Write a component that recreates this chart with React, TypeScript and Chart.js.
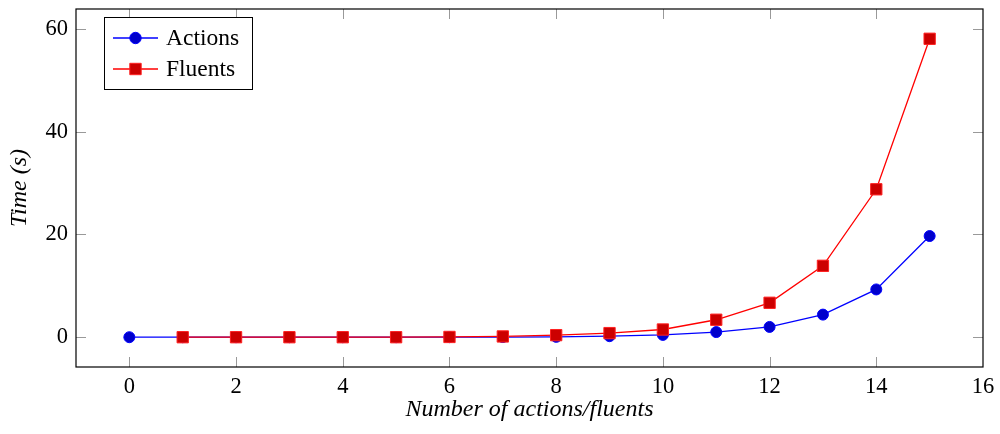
import React, { useEffect, useRef } from "react";
import { Chart, registerables } from "chart.js";

Chart.register(...registerables);

const actionsX = [0, 1, 2, 3, 4, 5, 6, 7, 8, 9, 10, 11, 12, 13, 14, 15];
const actionsY = [0, 0, 0, 0, 0, 0, 0.01, 0.03, 0.07, 0.2, 0.45, 1.0, 2.0, 4.4, 9.3, 19.7];
const fluentsX = [1, 2, 3, 4, 5, 6, 7, 8, 9, 10, 11, 12, 13, 14, 15];
const fluentsY = [0, 0, 0, 0, 0, 0.05, 0.15, 0.4, 0.8, 1.5, 3.4, 6.7, 13.9, 28.8, 58.1];
const xTicks = [0, 2, 4, 6, 8, 10, 12, 14, 16];
const yTicks = [0, 20, 40, 60];
const seriesLabels = ["Actions", "Fluents"];
const xTitle = "Number of actions/fluents";
const yTitle = "Time (s)";

const FONT = "'Liberation Serif', 'DejaVu Serif', serif";

const framePlugin = {
  id: "frame",
  afterDatasetsDraw(chart: any) {
    const { ctx, chartArea } = chart;
    const { left, right, top, bottom } = chartArea;
    const xs = chart.scales.x;
    const ys = chart.scales.y;
    ctx.save();
    ctx.strokeStyle = "#999999";
    ctx.lineWidth = 1;
    const tl = 10;
    ctx.beginPath();
    xs.ticks.forEach((t: any) => {
      const px = Math.round(xs.getPixelForValue(t.value)) + 0.5;
      if (px <= left + 1 || px >= right - 1) return;
      ctx.moveTo(px, bottom);
      ctx.lineTo(px, bottom - tl);
      ctx.moveTo(px, top);
      ctx.lineTo(px, top + tl);
    });
    ys.ticks.forEach((t: any) => {
      const py = Math.round(ys.getPixelForValue(t.value)) + 0.5;
      ctx.moveTo(left, py);
      ctx.lineTo(left + tl, py);
      ctx.moveTo(right, py);
      ctx.lineTo(right - tl, py);
    });
    ctx.stroke();
    ctx.strokeStyle = "#000000";
    ctx.lineWidth = 1.2;
    ctx.strokeRect(left, top, right - left, bottom - top);

    const bx = 104.5, by = 17.5, bw = 148, bh = 72;
    ctx.fillStyle = "#ffffff";
    ctx.fillRect(bx, by, bw, bh);
    ctx.strokeStyle = "#000000";
    ctx.lineWidth = 1;
    ctx.strokeRect(bx, by, bw, bh);
    const rows = [38, 69];
    chart.data.datasets.forEach((ds: any) => {
      const y = rows[ds.legendIndex];
      ctx.strokeStyle = ds.borderColor;
      ctx.lineWidth = 1.3;
      ctx.beginPath();
      ctx.moveTo(113, y);
      ctx.lineTo(158, y);
      ctx.stroke();
      ctx.fillStyle = ds.pointBackgroundColor;
      ctx.strokeStyle = ds.pointBorderColor;
      ctx.lineWidth = 1;
      ctx.beginPath();
      if (ds.pointStyle === "rect") {
        ctx.rect(135.5 - 5.7, y - 5.7, 11.4, 11.4);
      } else {
        ctx.arc(135.5, y, 5.7, 0, Math.PI * 2);
      }
      ctx.fill();
      ctx.stroke();
      ctx.fillStyle = "#000000";
      ctx.font = `23.5px ${FONT}`;
      ctx.textBaseline = "middle";
      ctx.textAlign = "left";
      ctx.fillText(ds.label, 166, y + 1);
    });
    ctx.restore();
  },
};

export default function App() {
  const ref = useRef<HTMLCanvasElement | null>(null);
  useEffect(() => {
    document.body.style.margin = "0";
    if (!ref.current) return;
    const chart = new Chart(ref.current, {
      type: "line",
      data: {
        datasets: [
          {
            label: seriesLabels[1],
            legendIndex: 1,
            data: fluentsX.map((x, i) => ({ x, y: fluentsY[i] })),
            borderColor: "#ff0000",
            backgroundColor: "#cc0000",
            pointBackgroundColor: "#cc0000",
            pointBorderColor: "#ff2020",
            pointStyle: "rect",
            pointRadius: 8,
            pointBorderWidth: 1,
            borderWidth: 1.3,
            order: 0,
          } as any,
          {
            label: seriesLabels[0],
            legendIndex: 0,
            data: actionsX.map((x, i) => ({ x, y: actionsY[i] })),
            borderColor: "#0000ff",
            backgroundColor: "#0000cc",
            pointBackgroundColor: "#0000cc",
            pointBorderColor: "#0000ff",
            pointStyle: "circle",
            pointRadius: 5.5,
            pointBorderWidth: 1,
            borderWidth: 1.3,
            order: 1,
          } as any,
        ],
      },
      options: {
        responsive: false,
        animation: false,
        layout: { padding: { top: 6, right: 17, left: 0, bottom: 0 } },
        plugins: { legend: { display: false }, tooltip: { enabled: false } },
        scales: {
          x: {
            type: "linear",
            min: -1,
            max: 16,
            afterBuildTicks: (s: any) => {
              s.ticks = xTicks.map((v) => ({ value: v }));
            },
            afterFit: (s: any) => {
              s.height = 67;
              s.paddingLeft = 0;
              s.paddingRight = 0;
            },
            grid: { display: false, drawTicks: false },
            border: { display: false },
            ticks: {
              padding: 7,
              color: "#000",
              maxRotation: 0,
              font: { family: FONT, size: 22.5 },
            },
            title: {
              display: true,
              text: xTitle,
              color: "#000",
              padding: { top: 0, bottom: 10 },
              font: { family: FONT, size: 24, style: "italic" },
            },
          },
          y: {
            type: "linear",
            min: -5.8,
            max: 63.9,
            afterBuildTicks: (s: any) => {
              s.ticks = yTicks.map((v) => ({ value: v }));
            },
            afterFit: (s: any) => {
              s.width = 76;
              s.paddingTop = 0;
              s.paddingBottom = 0;
            },
            grid: { display: false, drawTicks: false },
            border: { display: false },
            ticks: {
              padding: 8,
              color: "#000",
              font: { family: FONT, size: 22.5 },
            },
            title: {
              display: true,
              text: yTitle,
              color: "#000",
              padding: { top: 5, bottom: 0 },
              font: { family: FONT, size: 24, style: "italic" },
            },
          },
        },
      },
      plugins: [framePlugin],
    } as any);
    return () => chart.destroy();
  }, []);
  return (
    <div style={{ width: 1000, height: 434 }}>
      <canvas ref={ref} width={1000} height={434} style={{ display: "block" }} />
    </div>
  );
}
